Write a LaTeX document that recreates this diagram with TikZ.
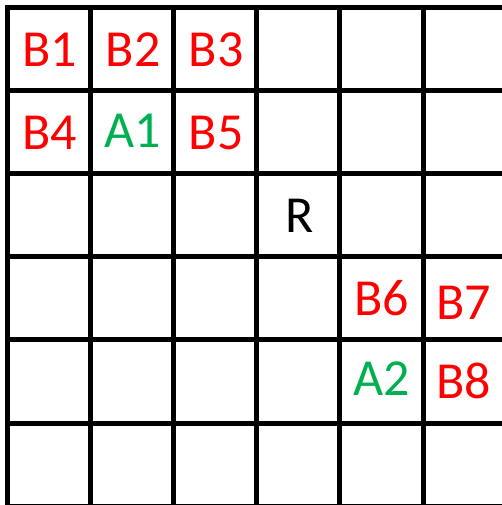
\documentclass[tikz,border=0pt]{standalone}
\usepackage{fontspec}
\setmainfont{Carlito}
\definecolor{bred}{RGB}{255,0,0}
\definecolor{agreen}{RGB}{0,176,80}
\begin{document}
\begin{tikzpicture}[x=1pt,y=-1pt,
  gridline/.style={line width=5pt,black},
  lbl/.style={font=\fontsize{52}{60}\selectfont,inner sep=0pt,anchor=center},
  blbl/.style={lbl,text=bred},
  albl/.style={lbl,text=agreen},
  rlbl/.style={lbl,text=black}]
\useasboundingbox (0,0) rectangle (502,505);
\begin{scope}
\clip (0,0) rectangle (502,505);
\foreach \i in {0,...,6} {
  \draw[gridline] ({7.5+83.1*\i},5) -- ({7.5+83.1*\i},510);
  \draw[gridline] (5,{7.5+83.1*\i}) -- (510,{7.5+83.1*\i});
}
\end{scope}
% cell centers: 49.05 + 83.1*k
\node[blbl] (b1) at (50,50) {B1};
\node[blbl] (b2) at (133.1,50) {B2};
\node[blbl] (b3) at (216.2,50) {B3};
\node[blbl] (b4) at (50,133.1) {B4};
\node[albl] (a1) at (133.1,131) {A1};
\node[blbl] (b5) at (216.2,133.1) {B5};
\node[rlbl] (r) at (299.3,216.2) {R};
\node[blbl] (b6) at (381.5,298) {B6};
\node[blbl] (b7) at (464,303) {B7};
\node[albl] (a2) at (381.5,379) {A2};
\node[blbl] (b8) at (464,381) {B8};
\end{tikzpicture}
\end{document}
